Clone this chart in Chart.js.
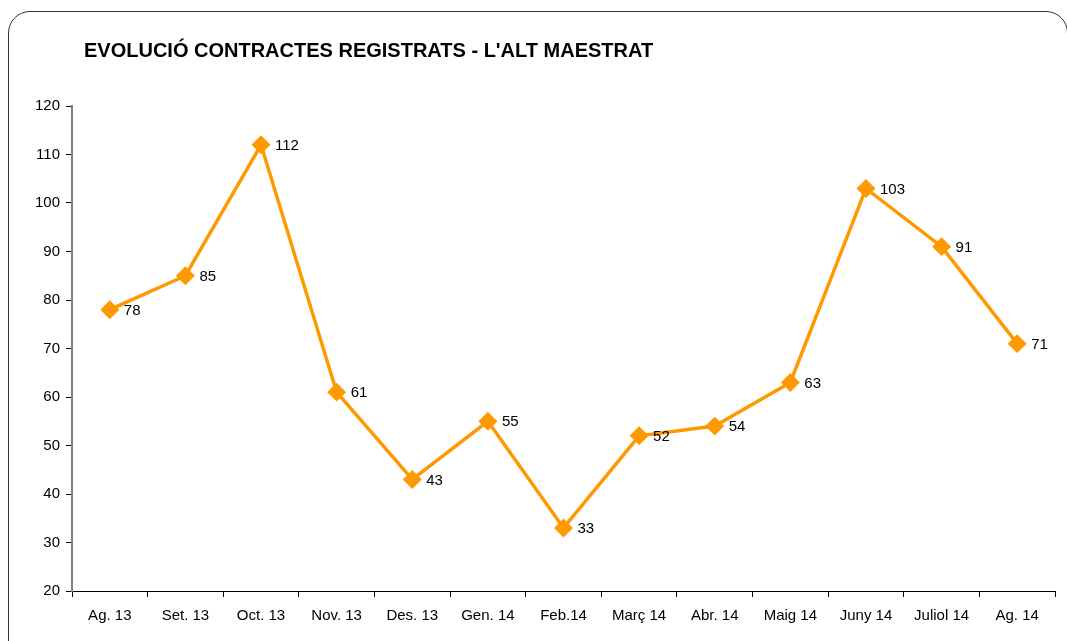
<!DOCTYPE html>
<html>
<head>
<meta charset="utf-8">
<script src="https://cdn.jsdelivr.net/npm/chart.js@4"></script>
<style>
  html, body { margin: 0; padding: 0; background: #fff; }
  #wrap { position: relative; width: 1067px; height: 641px; overflow: hidden; }
  #frame {
    position: absolute; left: 8px; top: 11px; width: 1060px; height: 660px;
    border: 1.5px solid #333; border-radius: 22px; box-sizing: border-box;
  }
  canvas { position: absolute; left: 0; top: 0; }
</style>
</head>
<body>
<div id="wrap">
  <div id="frame"></div>
  <canvas id="chart" width="1067" height="641"></canvas>
</div>
<script>
// chart data
const chartTitle = "EVOLUCIÓ CONTRACTES REGISTRATS - L'ALT MAESTRAT";
const months = ['Ag. 13', 'Set. 13', 'Oct. 13', 'Nov. 13', 'Des. 13', 'Gen. 14', 'Feb.14',
  'Març 14', 'Abr. 14', 'Maig 14', 'Juny 14', 'Juliol 14', 'Ag. 14'];
const contracts = [78, 85, 112, 61, 43, 55, 33, 52, 54, 63, 103, 91, 71];
const yMin = 20;
const yMax = 120;
const yStep = 10;

const font = 'Liberation Sans, Arial, sans-serif';
const orange = '#FF9900';

// title + value labels drawn on top
const extras = {
  id: 'extras',
  afterDatasetsDraw(chart) {
    const ctx = chart.ctx;
    ctx.save();
    ctx.fillStyle = '#000';
    ctx.font = 'bold 20px ' + font;
    ctx.textBaseline = 'middle';
    ctx.textAlign = 'left';
    ctx.fillText(chartTitle, 84, 51);

    ctx.font = '15px ' + font;
    const meta = chart.getDatasetMeta(0);
    meta.data.forEach((pt, i) => {
      ctx.fillText(String(contracts[i]), pt.x + 14, pt.y + 1);
    });
    ctx.restore();
  }
};

new Chart(document.getElementById('chart'), {
  type: 'line',
  data: {
    labels: months,
    datasets: [{
      data: contracts,
      borderColor: orange,
      backgroundColor: orange,
      borderWidth: 3.5,
      pointStyle: 'rectRot',
      pointRadius: 7,
      pointHoverRadius: 7,
      tension: 0
    }]
  },
  options: {
    responsive: false,
    animation: false,
    layout: { autoPadding: false, padding: { top: 106, right: 12, bottom: 0, left: 0 } },
    plugins: {
      legend: { display: false },
      tooltip: { enabled: false }
    },
    scales: {
      x: {
        offset: true,
        grid: {
          offset: true,
          drawOnChartArea: false,
          tickLength: 6,
          color: '#000'
        },
        border: { color: '#000', width: 1 },
        ticks: {
          color: '#000',
          font: { family: font, size: 15 },
          padding: 10,
          maxRotation: 0,
          autoSkip: false
        },
        afterFit(scale) {
          scale.height = 50;
          scale.paddingLeft = 0;
          scale.paddingRight = 0;
        }
      },
      y: {
        min: yMin,
        max: yMax,
        grid: {
          drawOnChartArea: false,
          tickLength: 6,
          color: '#000'
        },
        border: { color: '#808080', width: 2 },
        ticks: {
          stepSize: yStep,
          color: '#000',
          font: { family: font, size: 15 },
          padding: 6
        },
        afterFit(scale) { scale.width = 72; }
      }
    }
  },
  plugins: [extras]
});
</script>
</body>
</html>
